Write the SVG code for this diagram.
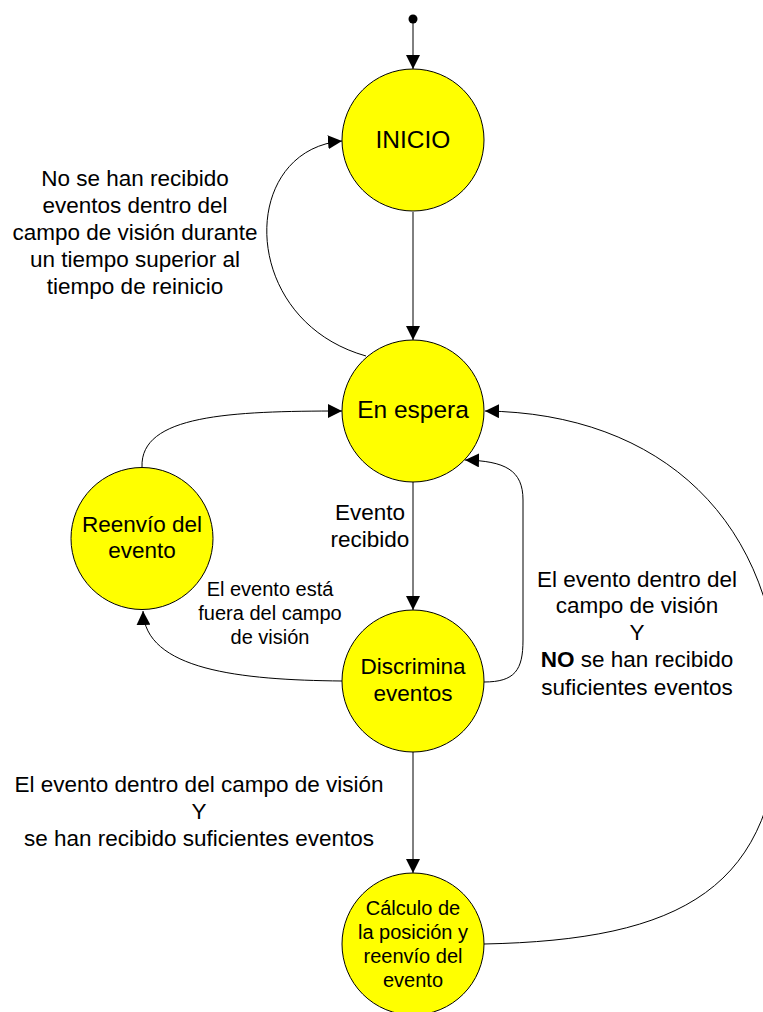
<svg xmlns="http://www.w3.org/2000/svg" width="763" height="1012" viewBox="0 0 763 1012">
<defs>
<marker id="arr" markerUnits="userSpaceOnUse" markerWidth="15" markerHeight="14" refX="14" refY="7" orient="auto">
<path d="M0,0 L14,7 L0,14 z" fill="#000"/>
</marker>
<style>
.st{fill:#ffff00;stroke:#000;stroke-width:1}
.c{fill:none;stroke:#000;stroke-width:1;marker-end:url(#arr)}
text{font-family:"Liberation Sans",Arial,sans-serif;fill:#000;text-anchor:middle}
.n{font-size:22.5px}
.b{font-size:24.5px}
.s{font-size:20px}
.l{font-size:22.5px}
</style>
</defs>
<rect width="763" height="1012" fill="#fff"/>
<g id="connectors">
<circle cx="413" cy="19" r="4.5" fill="#000"/>
<path class="c" d="M413,19 L413,69"/>
<path class="c" d="M413,212 L413,340"/>
<path class="c" d="M366,356 C238,320 238,150 342,141"/>
<path class="c" d="M413,482 L413,610"/>
<path class="c" d="M342,681 C240,680 145,670 143,611"/>
<path class="c" d="M142,467 C140,415 230,411 342,411"/>
<path class="c" d="M484,682 C515,682 523,670 523,640 L523,500 C523,470 505,461 465,460"/>
<path class="c" d="M413,752 L413,873"/>
<path class="c" d="M484,944 C680,940 780,890 780,707 C780,520 660,413 485,411"/>
</g>
<g id="inicio"><circle class="st" cx="413" cy="140" r="71"/><text class="b" x="413" y="148">INICIO</text></g>
<g id="espera"><circle class="st" cx="413" cy="411" r="71"/><text class="b" x="413" y="418">En espera</text></g>
<g id="reenvio"><circle class="st" cx="142" cy="538.5" r="71"/><text class="n" x="142" y="532">Reenvío del</text><text class="n" x="142" y="558">evento</text></g>
<g id="discrimina"><circle class="st" cx="413" cy="681" r="71"/><text class="n" x="413" y="674">Discrimina</text><text class="n" x="413" y="701">eventos</text></g>
<g id="calculo"><circle class="st" cx="413" cy="944" r="71"/><text class="s" x="413" y="915">Cálculo de</text><text class="s" x="413" y="939">la posición y</text><text class="s" x="413" y="963">reenvío del</text><text class="s" x="413" y="987">evento</text></g>
<g id="labels">
<text class="l" x="135" y="186">No se han recibido</text>
<text class="l" x="135" y="213">eventos dentro del</text>
<text class="l" x="135" y="240">campo de visión durante</text>
<text class="l" x="135" y="267">un tiempo superior al</text>
<text class="l" x="135" y="294">tiempo de reinicio</text>
<text class="l" x="370" y="520">Evento</text>
<text class="l" x="370" y="547">recibido</text>
<text class="s" x="270" y="596">El evento está</text>
<text class="s" x="270" y="620">fuera del campo</text>
<text class="s" x="270" y="644">de visión</text>
<text class="l" x="637" y="587">El evento dentro del</text>
<text class="l" x="637" y="613">campo de visión</text>
<text class="l" x="637" y="640">Y</text>
<text class="l" x="637" y="667"><tspan font-weight="bold">NO</tspan> se han recibido</text>
<text class="l" x="637" y="695">suficientes eventos</text>
<text class="l" x="199" y="792">El evento dentro del campo de visión</text>
<text class="l" x="199" y="819">Y</text>
<text class="l" x="199" y="846">se han recibido suficientes eventos</text>
</g>
</svg>
